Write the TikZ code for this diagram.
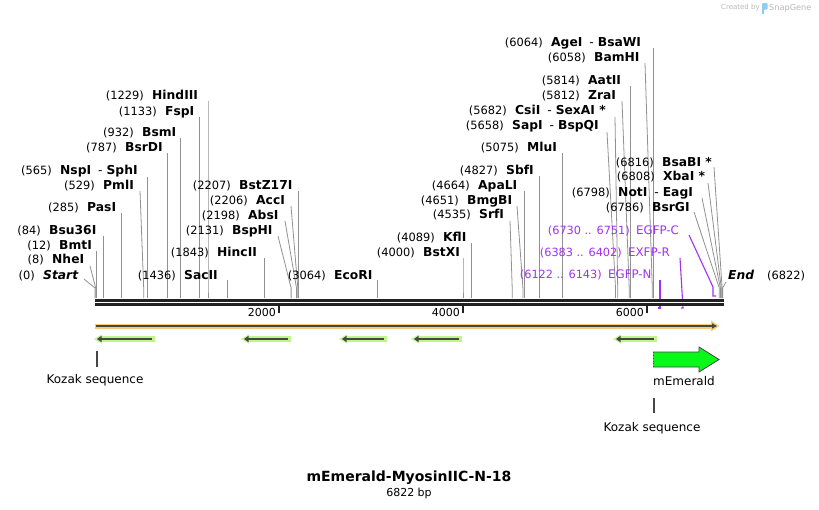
\documentclass[tikz,border=0pt]{standalone}
\usepackage{fontspec}
\setmainfont{DejaVu Sans}
\usetikzlibrary{arrows.meta}
\definecolor{bb}{RGB}{34,34,34}
\definecolor{rsl}{RGB}{145,145,145}
\definecolor{prim}{RGB}{160,50,240}
\definecolor{orng}{RGB}{249,201,122}
\definecolor{dgr}{RGB}{70,70,70}
\definecolor{lgrn}{RGB}{190,245,140}
\definecolor{emer}{RGB}{8,248,26}
\definecolor{sgray}{RGB}{185,185,185}
\definecolor{sblue}{RGB}{140,205,240}
\newcommand\dsep{\hspace{7pt}{\mdseries -}\hspace{4pt}}
\newcommand\rsite[8]{%
  \node[enz] (#1) at (#2,{#3+4.3}) {#5};
  \node[num] (#1n) at ([xshift=-8pt]#1.base west) {(#4)};
  \coordinate (#1a) at (#6,#7);
  \coordinate (#1b) at (#8,288);
  \coordinate (#1c) at (#8,298);
  \draw[cut] (#1a) -- (#1b) -- (#1c);
}
\newcommand\gprim[3]{%
  \coordinate (#1l) at (#2,339);
  \coordinate (#1r) at (#3,339);
  \fill[lgrn] ([xshift=-2pt]#1l) -- ([xshift=6pt,yshift=-4.5pt]#1l) -- ([xshift=6pt,yshift=4.5pt]#1l) -- cycle;
  \draw[lgrn, line width=6pt] ([xshift=5pt]#1l) -- (#1r);
  \draw[dgr, line width=2pt, -{Triangle[length=4.5pt,width=6pt]}] ([xshift=-3pt]#1r) -- ([xshift=1pt]#1l);
}
\begin{document}
\begin{tikzpicture}[x=1pt,y=-1pt,
  num/.style={anchor=base east, inner sep=0pt, font=\fontsize{11.4}{13}\selectfont},
  enz/.style={anchor=base west, inner sep=0pt, font=\fontsize{12.3}{14}\selectfont\bfseries},
  cut/.style={draw=rsl, line width=0.8pt},
  pn/.style={anchor=base west, inner sep=0pt, text=prim, font=\fontsize{11.8}{13}\selectfont},
  pnum/.style={anchor=base east, inner sep=0pt, text=prim, font=\fontsize{11.3}{13}\selectfont},
  pl/.style={draw=prim, line width=1.1pt},
  lbl/.style={inner sep=0pt, font=\fontsize{12}{14}\selectfont},
  tick/.style={draw=bb, line width=2pt},
  ticklbl/.style={anchor=east, inner sep=0pt, font=\fontsize{11}{13}\selectfont},
]
\useasboundingbox (0,0) rectangle (819,509);
\fill[white] (0,0) rectangle (819,509);

% watermark
\node[anchor=west, inner sep=0pt, text=sgray, font=\fontsize{7}{8}\selectfont] (wm1) at (721,8) {Created by};
\fill[sblue, rounded corners=1pt] (762,3) rectangle (767.5,9.5);
\fill[sblue] (762,9) rectangle (764.3,13.5);
\node[anchor=west, inner sep=0pt, text=sgray, font=\fontsize{8.2}{9}\selectfont] (wm2) at (769,8) {SnapGene};

% restriction sites
\rsite{s0}{43}{275}{0}{\textit{Start}}{84}{279}{95}
\rsite{s8}{52}{259}{8}{NheI}{90}{266}{95.7}
\rsite{s12}{59}{245}{12}{BmtI}{96.6}{251}{96.6}
\rsite{s84}{49}{230}{84}{Bsu36I}{103.5}{236}{103.5}
\rsite{s285}{87}{207}{285}{PasI}{121.2}{213}{121.2}
\rsite{s529}{103}{185}{529}{PmlI}{140}{191}{143.7}
\rsite{s565}{60}{170}{565}{NspI\dsep SphI}{147.5}{177}{147.5}
\rsite{s787}{125}{147}{787}{BsrDI}{167.4}{153}{167.4}
\rsite{s932}{142}{132}{932}{BsmI}{180.7}{138}{180.7}
\rsite{s1133}{165}{111}{1133}{FspI}{199.2}{117}{199.2}
\rsite{s1229}{152}{95}{1229}{HindIII}{208}{101}{208}
\rsite{s1436}{184}{275}{1436}{SacII}{227.1}{280}{227.1}
\rsite{s1843}{217}{252}{1843}{HincII}{264.6}{258}{264.6}
\rsite{s2131}{232}{230}{2131}{BspHI}{278}{236}{291.1}
\rsite{s2198}{248}{215}{2198}{AbsI}{285}{221}{296.5}
\rsite{s2206}{256}{200}{2206}{AccI}{291}{206}{297.8}
\rsite{s2207}{239}{185}{2207}{BstZ17I}{298.8}{191}{298.8}
\rsite{s3064}{334}{275}{3064}{EcoRI}{376.9}{280}{376.9}
\rsite{s4000}{423}{252}{4000}{BstXI}{463}{258}{463}
\rsite{s4089}{443}{237}{4089}{KflI}{471.2}{243}{471.2}
\rsite{s4535}{479}{214}{4535}{SrfI}{510}{221}{512.2}
\rsite{s4651}{467}{200}{4651}{BmgBI}{517}{206}{522.9}
\rsite{s4664}{478}{185}{4664}{ApaLI}{524.1}{191}{524.1}
\rsite{s4827}{506}{170}{4827}{SbfI}{539.1}{176}{539.1}
\rsite{s5075}{527}{147}{5075}{MluI}{561.9}{153}{561.9}
\rsite{s5658}{512}{125}{5658}{SapI\dsep BspQI}{607}{132}{615.5}
\rsite{s5682}{515}{110}{5682}{CsiI\dsep SexAI *}{615}{117}{617.7}
\rsite{s5812}{588}{95}{5812}{ZraI}{622}{101}{629.2}
\rsite{s5814}{588}{80}{5814}{AatII}{629.9}{86}{629.9}
\rsite{s6058}{594}{57}{6058}{BamHI}{645}{63}{652.3}
\rsite{s6064}{551}{42}{6064}{AgeI\dsep BsaWI}{652.9}{48}{652.9}
\rsite{s6786}{652}{207}{6786}{BsrGI}{694}{212}{719.3}
\rsite{s6798}{618}{192}{6798}{NotI\dsep EagI}{702}{198}{720.4}
\rsite{s6808}{663}{176}{6808}{XbaI *}{708}{183}{721.3}
\rsite{s6816}{662}{162}{6816}{BsaBI *}{714}{167}{722.1}

% End
\node[enz] (send) at (728,{275+4.3}) {\textit{End}};
\node[num, anchor=base west] (sendn) at (767,{275+4.3}) {(6822)};
\coordinate (senda) at (726,282);
\coordinate (sendb) at (722.6,288);
\coordinate (sendc) at (722.6,298);
\draw[cut] (senda) -- (sendb) -- (sendc);

% primers
\node[pn] (p1) at (608,{274+4.3}) {EGFP-N};
\node[pnum] (p1n) at ([xshift=-6pt]p1.base west) {(6122 .. 6143)};
\coordinate (p1a) at (660,280); \coordinate (p1b) at (660,308); \coordinate (p1c) at (658,308);
\draw[pl] (p1a) -- (p1b) -- (p1c);
\node[pn] (p2) at (628,{252+4.3}) {EXFP-R};
\node[pnum] (p2n) at ([xshift=-6pt]p2.base west) {(6383 .. 6402)};
\coordinate (p2a) at (680,258); \coordinate (p2b) at (683,308); \coordinate (p2c) at (681,308);
\draw[pl] (p2a) -- (p2b) -- (p2c);
\node[pn] (p3) at (636,{230+4.3}) {EGFP-C};
\node[pnum] (p3n) at ([xshift=-6pt]p3.base west) {(6730 .. 6751)};
\coordinate (p3a) at (689,235); \coordinate (p3b) at (713,287); \coordinate (p3c) at (713,296); \coordinate (p3d) at (716,296);
\draw[pl] (p3a) -- (p3b) -- (p3c) -- (p3d);

% backbone
\fill[bb] (95,299) rectangle (724,306);
\draw[white, line width=0.9pt] (95,302.6) -- (724,302.6);

% ticks
\coordinate (t2a) at (279,306); \coordinate (t2b) at (279,313);
\draw[tick] (t2a) -- (t2b);
\node[ticklbl] (t2) at (276,312) {2000};
\coordinate (t4a) at (463,306); \coordinate (t4b) at (463,313);
\draw[tick] (t4a) -- (t4b);
\node[ticklbl] (t4) at (460,312) {4000};
\coordinate (t6a) at (647,306); \coordinate (t6b) at (647,313);
\draw[tick] (t6a) -- (t6b);
\node[ticklbl] (t6) at (644,312) {6000};

% orange ORF bar
\coordinate (oa) at (95,326); \coordinate (ob) at (712,326);
\draw[orng, line width=5pt] (oa) -- (ob);
\fill[orng] (711,320.5) -- (719.5,326) -- (711,331.5) -- cycle;
\draw[dgr, line width=1.5pt, -{Triangle[length=5pt,width=5pt]}] (96,326) -- (717,326);

% green primer arrows
\gprim{g1}{96}{155}
\gprim{g2}{243}{291}
\gprim{g3}{341}{387}
\gprim{g4}{413}{462}
\gprim{g5}{615}{657}

% mEmerald feature
\fill[emer] (653,352) -- (699,352) -- (699,347) -- (719,359.5) -- (699,372) -- (699,367) -- (653,367) -- cycle;
\draw[dgr, line width=0.8pt] (653,352) -- (699,352) -- (699,347) -- (719,359.5) -- (699,372) -- (699,367) -- (653,367);
\draw[dgr, line width=0.8pt, dotted] (653,367) -- (653,352);
\node[lbl] (mem) at (684,381) {mEmerald};

% Kozak sequences
\coordinate (k1a) at (97,351); \coordinate (k1b) at (97,367);
\draw[dgr, line width=2pt] (k1a) -- (k1b);
\node[lbl] (k1) at (95,380) {Kozak sequence};
\coordinate (k2a) at (654,398); \coordinate (k2b) at (654,413);
\draw[dgr, line width=2pt] (k2a) -- (k2b);
\node[lbl] (k2) at (652,428) {Kozak sequence};

% title
\node[inner sep=0pt, font=\fontsize{14}{16}\selectfont\bfseries] (title) at (409,478) {mEmerald-MyosinIIC-N-18};
\node[inner sep=0pt, font=\fontsize{11}{13}\selectfont] (len) at (409,493) {6822 bp};
\end{tikzpicture}
\end{document}
